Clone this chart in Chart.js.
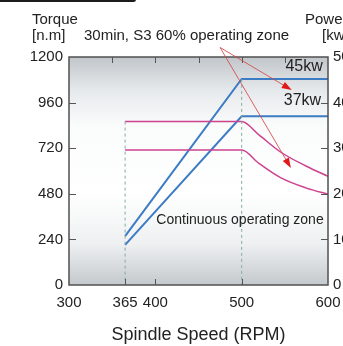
<!DOCTYPE html>
<html>
<head>
<meta charset="utf-8">
<script src="https://cdn.jsdelivr.net/npm/chart.js@4/dist/chart.umd.min.js"></script>
<style>
  html, body { margin:0; padding:0; background:#fff; width:343px; height:346px; overflow:hidden; }
  #wrap { position:absolute; left:0; top:0; width:360px; height:346px; }
  .t { position:absolute; font-family:"Liberation Sans", Arial, sans-serif; font-size:15px; line-height:15px; color:#222; white-space:nowrap; }
  #bar { position:absolute; left:-6px; top:-3px; width:142px; height:5px; background:#1c1c1c; border-radius:3px; }
</style>
</head>
<body>
<div id="bar"></div>
<div id="wrap"><canvas id="c" width="360" height="346"></canvas></div>
<div class="t" style="left:32px;top:11px;">Torque</div>
<div class="t" style="left:32px;top:27px;">[n.m]</div>
<div class="t" style="left:84px;top:27px;">30min, S3 60% operating zone</div>
<div class="t" style="left:305px;top:11px;">Power</div>
<div class="t" style="left:322px;top:27px;">[kw]</div>
<script>
// ---- data ----
const xTickLabels = [300, 365, 400, 500, 600];
const powerRpm = [365, 500, 600];
const power45 = [10.7, 45.2, 45.2];
const power37 = [8.8, 37.0, 37.0];
const torqueRpm = [365, 500, 520, 545, 575, 600];
const torqueS3 = [860, 860, 790, 700, 625, 572];
const torqueCont = [710, 710, 640, 565, 510, 478];
const guide365 = { rpm: 365, top: 860 };   // torque axis
const guide500 = { rpm: 500, top: 45.2 };  // power axis
const topTicks = [350, 400, 450, 500, 550];
const bottomTicks = [365, 400, 500];
const leftTicks = [240, 480, 720, 960];
const rightTicks = [10, 20, 30, 40];
const arrowFrom = { rpm: 475, torque: 1250 };
const arrowTo = [ { rpm: 558, torque: 1026 }, { rpm: 557, torque: 616 } ];
const notes = [
  { text: '45kw', rpm: 594, power: 48.0, axis: 'y1', size: 16 },
  { text: '37kw', rpm: 592, power: 40.4, axis: 'y1', size: 16 },
  { text: 'Continuous operating zone', rpm: 595, power: 342, axis: 'y', size: 14 }
];

const pts = (xs, ys) => xs.map((x, i) => ({ x: x, y: ys[i] }));
const FONT = '"Liberation Sans", Arial, sans-serif';
const BLUE = '#3c7cc4', MAG = '#cc4290', GUIDE = '#86ad9f';

const decor = {
  id: 'decor',
  beforeDatasetsDraw(chart) {
    const { ctx, chartArea: a } = chart;
    const g = ctx.createLinearGradient(0, a.top, 0, a.bottom);
    g.addColorStop(0, '#c1c6cb');
    g.addColorStop(0.15, '#e7eaec');
    g.addColorStop(0.3, '#fafbfb');
    g.addColorStop(0.6, '#ffffff');
    g.addColorStop(0.82, '#eef0f1');
    g.addColorStop(1, '#c4c9cd');
    ctx.save();
    ctx.fillStyle = g;
    ctx.fillRect(a.left, a.top, a.right - a.left, a.bottom - a.top);
    ctx.restore();
  },
  afterDatasetsDraw(chart) {
    const { ctx, chartArea: a, scales } = chart;
    const sx = scales.x, sy = scales.y, sy1 = scales.y1;
    ctx.save();
    ctx.strokeStyle = '#555';
    ctx.lineWidth = 1;
    ctx.beginPath();
    topTicks.forEach(v => { const p = Math.round(sx.getPixelForValue(v)) + 0.5; ctx.moveTo(p, a.top); ctx.lineTo(p, a.top + 6); });
    bottomTicks.forEach(v => { const p = Math.round(sx.getPixelForValue(v)) + 0.5; ctx.moveTo(p, a.bottom); ctx.lineTo(p, a.bottom - 6); });
    leftTicks.forEach(v => { const p = Math.round(sy.getPixelForValue(v)) + 0.5; ctx.moveTo(a.left, p); ctx.lineTo(a.left + 7, p); });
    rightTicks.forEach(v => { const p = Math.round(sy1.getPixelForValue(v)) + 0.5; ctx.moveTo(a.right, p); ctx.lineTo(a.right - 7, p); });
    ctx.stroke();
    ctx.strokeStyle = '#505050';
    ctx.lineWidth = 1.5;
    ctx.strokeRect(a.left, a.top, a.right - a.left, a.bottom - a.top);
    ctx.fillStyle = '#222';
    ctx.textAlign = 'right';
    ctx.textBaseline = 'middle';
    notes.forEach(n => {
      ctx.font = n.size + 'px ' + FONT;
      const s = n.axis === 'y1' ? sy1 : sy;
      ctx.fillText(n.text, sx.getPixelForValue(n.rpm), s.getPixelForValue(n.power));
    });
    const x0 = sx.getPixelForValue(arrowFrom.rpm), y0 = sy.getPixelForValue(arrowFrom.torque);
    arrowTo.forEach(t => {
      const x1 = sx.getPixelForValue(t.rpm), y1 = sy.getPixelForValue(t.torque);
      const ang = Math.atan2(y1 - y0, x1 - x0);
      ctx.strokeStyle = 'rgba(210,70,70,0.85)';
      ctx.lineWidth = 1;
      ctx.beginPath(); ctx.moveTo(x0, y0); ctx.lineTo(x1 - 6 * Math.cos(ang), y1 - 6 * Math.sin(ang)); ctx.stroke();
      ctx.fillStyle = '#e01818';
      ctx.beginPath();
      ctx.moveTo(x1, y1);
      ctx.lineTo(x1 - 10 * Math.cos(ang) + 3.5 * Math.sin(ang), y1 - 10 * Math.sin(ang) - 3.5 * Math.cos(ang));
      ctx.lineTo(x1 - 10 * Math.cos(ang) - 3.5 * Math.sin(ang), y1 - 10 * Math.sin(ang) + 3.5 * Math.cos(ang));
      ctx.closePath(); ctx.fill();
    });
    ctx.restore();
  }
};

const noGrid = { display: false, drawTicks: false, drawOnChartArea: false };

new Chart(document.getElementById('c'), {
  type: 'line',
  data: {
    datasets: [
      { data: [{ x: guide365.rpm, y: guide365.top }, { x: guide365.rpm, y: 0 }], yAxisID: 'y', borderColor: GUIDE, borderWidth: 1, borderDash: [3, 3], pointRadius: 0 },
      { data: [{ x: guide500.rpm, y: guide500.top }, { x: guide500.rpm, y: 0 }], yAxisID: 'y1', borderColor: GUIDE, borderWidth: 1, borderDash: [3, 3], pointRadius: 0 },
      { data: pts(torqueRpm, torqueS3), yAxisID: 'y', borderColor: MAG, borderWidth: 1.5, pointRadius: 0, cubicInterpolationMode: 'monotone' },
      { data: pts(torqueRpm, torqueCont), yAxisID: 'y', borderColor: MAG, borderWidth: 1.5, pointRadius: 0, cubicInterpolationMode: 'monotone' },
      { data: pts(powerRpm, power45), yAxisID: 'y1', borderColor: BLUE, borderWidth: 2, pointRadius: 0 },
      { data: pts(powerRpm, power37), yAxisID: 'y1', borderColor: BLUE, borderWidth: 2, pointRadius: 0 }
    ]
  },
  options: {
    responsive: false,
    animation: false,
    events: [],
    layout: { padding: { top: 57, left: 0, right: 0, bottom: 0 } },
    plugins: { legend: { display: false }, tooltip: { enabled: false } },
    scales: {
      x: {
        type: 'linear', min: 300, max: 600,
        afterBuildTicks: s => { s.ticks = xTickLabels.map(v => ({ value: v })); },
        afterFit: s => { s.height = 61; },
        grid: noGrid,
        border: { display: false },
        ticks: { font: { family: FONT, size: 15 }, color: '#222', padding: 9, maxRotation: 0, autoSkip: false, callback: v => String(v) },
        title: { display: true, text: 'Spindle Speed (RPM)', font: { family: FONT, size: 18 }, color: '#222', padding: { top: 10, bottom: 0 } }
      },
      y: {
        position: 'left', min: 0, max: 1200,
        ticks: { stepSize: 240, font: { family: FONT, size: 15 }, color: '#222', padding: 6, callback: v => String(v) },
        afterFit: s => { s.width = 69; },
        grid: noGrid,
        border: { display: false }
      },
      y1: {
        position: 'right', min: 0, max: 50,
        ticks: { stepSize: 10, font: { family: FONT, size: 15 }, color: '#222', padding: 5, callback: v => String(v) },
        afterFit: s => { s.width = 32; },
        grid: noGrid,
        border: { display: false }
      }
    }
  },
  plugins: [decor]
});
</script>
</body>
</html>
